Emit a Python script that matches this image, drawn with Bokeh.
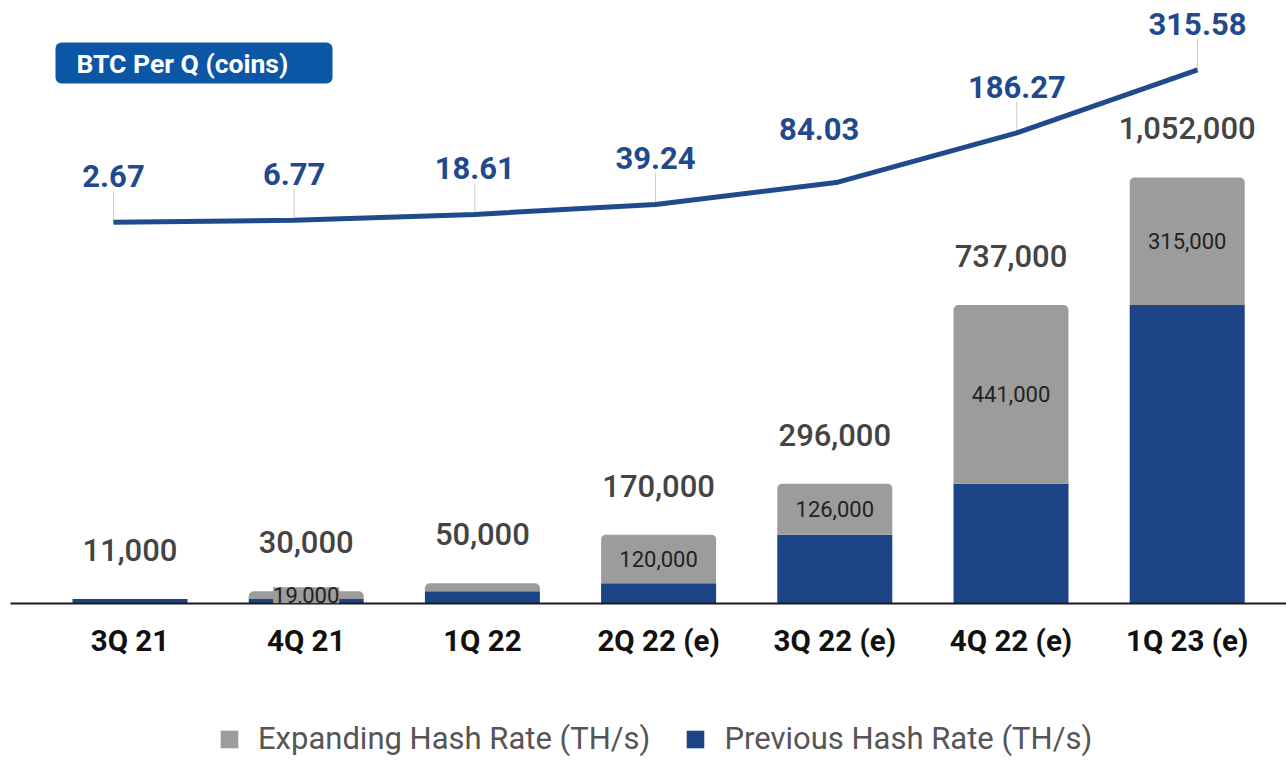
from bokeh.plotting import figure
from bokeh.layouts import column
from bokeh.models import (Range1d, FixedTicker, LabelSet, ColumnDataSource, Legend,
                          LegendItem, BoxAnnotation, Label)
from bokeh.core.properties import value
from bokeh.embed import file_html
from bokeh.resources import INLINE

# ---------------- data ----------------
quarters = ["3Q 21", "4Q 21", "1Q 22", "2Q 22 (e)", "3Q 22 (e)", "4Q 22 (e)", "1Q 23 (e)"]
previous_hash = [11000, 11000, 30000, 50000, 170000, 296000, 737000]
expanding_hash = [0, 19000, 20000, 120000, 126000, 441000, 315000]
expanding_shown = [False, True, False, True, True, True, True]
btc_per_q = [2.67, 6.77, 18.61, 39.24, 84.03, 186.27, 315.58]

# ---------------- style ----------------
BLUE_BAR = "#1d4487"
GRAY_BAR = "#9c9c9c"
LINE_BLUE = "#1f4a8c"
BADGE = "#0b57a5"
FONT = "Roboto"

LEFT, TOP = 10, 8
FRAME_W, FRAME_H = 1276, 595
BOTTOM = 80
BAR_STEP_PX, FIRST_BAR_PX = 176.2, 119.5
LINE_STEP_PX, FIRST_PT_PX = 180.67, 103.0
BAR_W = 115 / BAR_STEP_PX
# label placement tweaks (screen px) for a crowded point: index -> (dx, dy)
LABEL_NUDGE = {4: (-17, 8)}

idx = list(range(len(quarters)))
totals = [a + b for a, b in zip(previous_hash, expanding_hash)]

x_start = -FIRST_BAR_PX / BAR_STEP_PX
x_end = x_start + FRAME_W / BAR_STEP_PX
lx_start = -FIRST_PT_PX / LINE_STEP_PX
lx_end = lx_start + FRAME_W / LINE_STEP_PX
y_end = 1469340
btc_start, btc_end = -780.3, 441.5

p = figure(frame_width=FRAME_W, frame_height=FRAME_H,
           x_range=Range1d(x_start, x_end), y_range=Range1d(0, y_end),
           output_backend="svg", toolbar_location=None, y_axis_location=None,
           min_border_left=LEFT, min_border_right=0, min_border_top=TOP,
           min_border_bottom=BOTTOM)
p.extra_x_ranges = {"lx": Range1d(lx_start, lx_end)}
p.extra_y_ranges = {"btc": Range1d(btc_start, btc_end)}
p.xgrid.visible = False
p.ygrid.visible = False
p.outline_line_color = None

# bars
src = ColumnDataSource(dict(x=idx, prev=previous_hash, total=totals,
                            total_lbl=[f"{t:,}" for t in totals]))
r_prev = p.vbar(x="x", top="prev", width=BAR_W, source=src, fill_color=BLUE_BAR, line_color=None)
r_exp = p.vbar(x="x", bottom="prev", top="total", width=BAR_W, source=src,
               fill_color=GRAY_BAR, line_color=None, border_radius=(5, 5, 0, 0))

p.add_layout(LabelSet(x="x", y="total", text="total_lbl", source=src, y_offset=38,
                      text_align="center", text_baseline="alphabetic",
                      text_font=value("Roboto Medium"), text_font_size="31px",
                      text_color="#444444"))

in_x = [i for i in idx if expanding_shown[i]]
in_src = ColumnDataSource(dict(
    x=in_x,
    y=[previous_hash[i] + expanding_hash[i] / 2 for i in in_x],
    t=[f"{expanding_hash[i]:,}" for i in in_x]))
p.add_layout(LabelSet(x="x", y="y", text="t", source=in_src, text_align="center",
                      text_baseline="middle", text_font=value(FONT), text_font_size="22px",
                      text_color="#222222", background_fill_color=GRAY_BAR))

# BTC line
btc_px = FRAME_H / (btc_end - btc_start)
TICK_UNITS = 31 / btc_px
lsrc = ColumnDataSource(dict(
    x=idx, y=btc_per_q,
    lbl=[f"{v:.2f}" for v in btc_per_q],
    dx=[LABEL_NUDGE.get(i, (0, 0))[0] for i in idx],
    dy=[35 + LABEL_NUDGE.get(i, (0, 0))[1] for i in idx]))
tick_i = [i for i in idx if i not in LABEL_NUDGE]
tsrc = ColumnDataSource(dict(x=tick_i, y=[btc_per_q[i] for i in tick_i],
                             ytop=[btc_per_q[i] + TICK_UNITS for i in tick_i]))
p.segment(x0="x", y0="y", x1="x", y1="ytop", source=tsrc, line_color="#cccccc", line_width=1,
          x_range_name="lx", y_range_name="btc")
p.line(x="x", y="y", source=lsrc, line_color=LINE_BLUE, line_width=5,
       x_range_name="lx", y_range_name="btc")
p.add_layout(LabelSet(x="x", y="y", text="lbl", source=lsrc, x_offset="dx", y_offset="dy",
                      x_range_name="lx", y_range_name="btc",
                      text_align="center", text_baseline="alphabetic", text_font=value(FONT),
                      text_font_size="31px", text_font_style="bold", text_color=LINE_BLUE))

# badge (page pixels -> data)
def bx(px):
    return x_start + (px - LEFT) / BAR_STEP_PX

def by(py):
    return (TOP + FRAME_H - py) * y_end / FRAME_H

p.add_layout(BoxAnnotation(left=bx(55), right=bx(332), top=by(42), bottom=by(83),
                           fill_color=BADGE, fill_alpha=1, line_color=None, border_radius=6))
p.add_layout(Label(x=bx(76), y=by(63), text="BTC Per Q (coins)", text_font=FONT,
                   text_font_size="26.5px", text_font_style="bold", text_color="white",
                   text_baseline="middle"))

# axis
ax = p.xaxis[0]
ax.ticker = FixedTicker(ticks=idx)
ax.major_label_overrides = {i: q for i, q in zip(idx, quarters)}
ax.major_tick_line_color = None
ax.minor_tick_line_color = None
ax.axis_line_color = "#1a1a1a"
ax.axis_line_width = 2
ax.major_label_standoff = 14
ax.major_label_text_font = FONT
ax.major_label_text_font_size = "29.5px"
ax.major_label_text_font_style = "bold"
ax.major_label_text_color = "#111111"

# legend strip
LEG_H = 761 - 1 - (TOP + FRAME_H + BOTTOM)
p2 = figure(width=LEFT + FRAME_W, height=LEG_H, x_range=Range1d(0, 1), y_range=Range1d(0, 1),
            output_backend="svg", toolbar_location=None, x_axis_location=None,
            y_axis_location=None, min_border=0)
p2.xgrid.visible = False
p2.ygrid.visible = False
p2.outline_line_color = None
hidden = ColumnDataSource(dict(x=[10], top=[10]))
g_exp = p2.vbar(x="x", top="top", width=1, source=hidden, fill_color=GRAY_BAR, line_color=None)
g_prev = p2.vbar(x="x", top="top", width=1, source=hidden, fill_color=BLUE_BAR, line_color=None)
legend = Legend(items=[LegendItem(label="Expanding Hash Rate (TH/s)", renderers=[g_exp]),
                       LegendItem(label="Previous Hash Rate (TH/s)", renderers=[g_prev])],
                orientation="horizontal", location=(208, 3), glyph_width=22, glyph_height=22,
                label_standoff=18, spacing=34, padding=0, margin=0,
                border_line_color=None, background_fill_alpha=0,
                label_text_font=FONT, label_text_font_size="31px", label_text_color="#555555")
p2.add_layout(legend)

open("out.html", "w").write(file_html(column(p, p2, spacing=0), INLINE))
